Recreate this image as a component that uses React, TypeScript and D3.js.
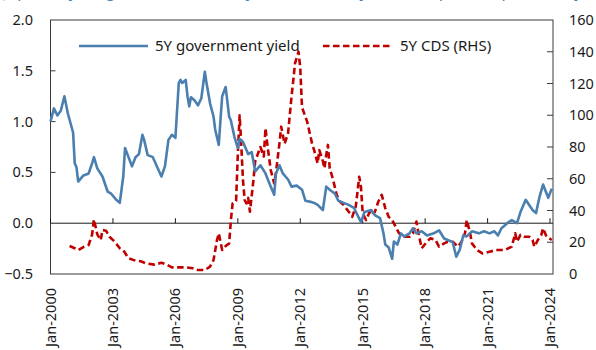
import React from "react";
import * as d3 from "d3";

// 5Y government bond yield (%), left axis
const yieldMonths = [
  "2000-01","2000-03","2000-05","2000-07","2000-09","2000-11","2001-02","2001-03","2001-04","2001-05",
  "2001-08","2001-11","2002-01","2002-02","2002-04","2002-07","2002-10","2002-12","2003-03","2003-05",
  "2003-07","2003-08","2003-10","2003-12","2004-02","2004-04","2004-06","2004-07","2004-09","2004-12",
  "2005-02","2005-05","2005-07","2005-09","2005-11","2006-01","2006-03","2006-04","2006-05","2006-07",
  "2006-08","2006-09","2006-10","2006-12","2007-02","2007-04","2007-06","2007-07","2007-09","2007-11",
  "2007-12","2008-02","2008-03","2008-04","2008-06","2008-08","2008-09","2008-11","2009-01","2009-02",
  "2009-04","2009-07","2009-09","2009-11","2010-02","2010-05","2010-08","2010-10","2010-11","2011-01",
  "2011-03","2011-06","2011-08","2011-11","2012-02","2012-04","2012-07","2012-09","2012-11","2013-02",
  "2013-04","2013-06","2013-09","2013-11","2014-02","2014-05","2014-08","2014-12","2015-02","2015-06",
  "2015-08","2015-11","2016-01","2016-02","2016-04","2016-06","2016-07","2016-09","2016-11","2017-01",
  "2017-04","2017-06","2017-08","2017-11","2018-02","2018-06","2018-09","2018-12","2019-04","2019-05",
  "2019-07","2019-09","2019-11","2020-01","2020-04","2020-08","2020-11","2021-02","2021-05","2021-07",
  "2021-09","2022-01","2022-03","2022-06","2022-08","2022-11","2023-01","2023-03","2023-05","2023-07",
  "2023-09","2023-12","2024-02"
];
const yieldValues = [
  1.00,1.13,1.06,1.11,1.25,1.08,0.89,0.59,0.55,0.41,
  0.47,0.49,0.59,0.65,0.54,0.46,0.31,0.29,0.23,0.20,
  0.46,0.74,0.65,0.56,0.65,0.68,0.87,0.82,0.67,0.65,
  0.57,0.46,0.56,0.82,0.87,0.84,1.38,1.41,1.38,1.41,
  1.25,1.15,1.24,1.21,1.16,1.23,1.49,1.38,1.18,1.05,
  0.92,0.77,1.01,1.25,1.34,1.05,1.01,0.85,0.74,0.83,
  0.80,0.68,0.70,0.51,0.57,0.49,0.36,0.28,0.49,0.57,
  0.49,0.43,0.36,0.37,0.33,0.22,0.21,0.20,0.18,0.13,
  0.36,0.33,0.29,0.22,0.20,0.18,0.15,0.01,0.11,0.13,
  0.08,0.05,-0.10,-0.21,-0.24,-0.35,-0.18,-0.21,-0.10,-0.13,
  -0.10,-0.05,-0.10,-0.08,-0.12,-0.10,-0.07,-0.15,-0.18,-0.19,
  -0.33,-0.26,-0.12,-0.13,-0.08,-0.10,-0.08,-0.10,-0.08,-0.12,
  -0.05,0.01,0.03,0.00,0.11,0.23,0.18,0.13,0.10,0.26,
  0.38,0.25,0.34
];

// 5Y CDS spread (bp), right axis
const cdsMonths = [
  "2000-12","2001-03","2001-05","2001-08","2001-11","2002-01","2002-02","2002-04","2002-06","2002-07",
  "2002-09","2002-11","2003-02","2003-05","2003-07","2003-10","2004-02","2004-05","2004-08","2005-01",
  "2005-05","2005-08","2005-11","2006-03","2006-07","2006-11","2007-02","2007-06","2007-09","2007-11",
  "2008-01","2008-02","2008-04","2008-06","2008-08","2008-09","2008-10","2008-12","2009-01","2009-02",
  "2009-03","2009-04","2009-05","2009-06","2009-07","2009-08","2009-10","2009-11","2010-01","2010-02",
  "2010-04","2010-05","2010-06","2010-08","2010-10","2010-11","2011-01","2011-02","2011-04","2011-06",
  "2011-08","2011-09","2011-10","2011-12","2012-01","2012-02","2012-04","2012-05","2012-08","2012-09",
  "2012-11","2012-12","2013-02","2013-03","2013-04","2013-05","2013-06","2013-08","2013-10","2013-12",
  "2014-02","2014-05","2014-07","2014-09","2014-11","2014-12","2015-01","2015-03","2015-05","2015-06",
  "2015-08","2015-10","2015-12","2016-02","2016-04","2016-06","2016-08","2016-10","2017-01","2017-04",
  "2017-06","2017-08","2017-09","2017-11","2018-02","2018-04","2018-07","2018-09","2018-12","2019-02",
  "2019-05","2019-08","2019-10","2019-12","2020-01","2020-03","2020-04","2020-07","2020-10","2021-02",
  "2021-06","2021-11","2022-03","2022-05","2022-06","2022-08","2022-10","2023-01","2023-03","2023-04",
  "2023-06","2023-08","2023-09","2023-11","2024-02"
];
const cdsValues = [
  17.6,16.2,15.1,17.0,18.3,25.0,34.4,25.0,21.4,27.7,
  27.3,23.5,20.3,16.2,15.0,9.9,8.4,8.0,6.7,5.9,
  7.1,5.9,4.2,4.2,4.2,3.6,2.5,2.5,4.6,8.8,
  21.4,25.6,15.1,17.6,19.3,34.0,44.5,46.0,76.0,100.0,
  82.0,59.0,46.6,44.5,48.0,39.2,59.0,71.0,77.0,80.0,
  74.0,91.8,82.0,65.5,57.0,64.0,82.3,92.8,82.0,88.6,
  111.7,122.0,132.7,140.0,130.0,105.0,99.0,96.0,81.3,78.0,
  69.7,78.0,71.0,66.6,75.0,81.3,66.6,59.2,49.8,45.5,
  43.4,39.2,36.0,42.4,61.3,55.0,38.2,34.0,39.0,37.0,
  39.0,45.5,49.8,41.5,36.0,34.0,29.8,25.6,23.5,23.5,
  25.6,33.0,26.6,16.2,20.3,22.5,21.4,17.2,19.3,20.3,
  20.3,17.2,20.3,25.6,34.0,25.6,19.3,15.1,13.0,14.0,
  15.1,15.1,17.2,25.6,20.3,24.6,23.5,23.5,21.4,17.2,
  21.4,24.6,28.8,23.5,21.4
];

const leftTicks = [-0.5, 0.0, 0.5, 1.0, 1.5, 2.0];
const rightTicks = [0, 20, 40, 60, 80, 100, 120, 140, 160];
const xTickYears = [2000, 2003, 2006, 2009, 2012, 2015, 2018, 2021, 2024];

const seriesNames = ["5Y government yield", "5Y CDS (RHS)"];
const titleText =
  "Japan: 5-year government bond yield (%) and 5-year CDS spread (bp, monthly averages of daily data)";

const W = 596;
const H = 350;
const FONT = "'Noto Sans', 'Open Sans', sans-serif";
const BLUE = "#4a7fb0";
const RED = "#c00000";
const INK = "#1a1a1a";

const parseMonth = d3.timeParse("%Y-%m");

export default function App() {
  const box = { left: 50.5, right: 553, top: 20, bottom: 274 };

  const x = d3
    .scaleTime()
    .domain([new Date(2000, 0, 1), new Date(2024, 0, 1)])
    .range([box.left, 550]);
  const yL = d3.scaleLinear().domain([-0.5, 2.0]).range([box.bottom, box.top]);
  const yR = d3.scaleLinear().domain([0, 160]).range([box.bottom, box.top]);

  const yieldData = yieldMonths.map((m, i) => ({ d: parseMonth(m) as Date, v: yieldValues[i] }));
  const cdsData = cdsMonths.map((m, i) => ({ d: parseMonth(m) as Date, v: cdsValues[i] }));

  const yieldLine = d3
    .line<{ d: Date; v: number }>()
    .x((p) => x(p.d))
    .y((p) => yL(p.v));
  const cdsLine = d3
    .line<{ d: Date; v: number }>()
    .x((p) => x(p.d))
    .y((p) => yR(p.v));

  const zeroY = yL(0);
  const fmtLeft = d3.format(".1f");

  return (
    <svg
      width={W}
      height={H}
      style={{ position: "absolute", left: 0, top: 0, background: "#fff" }}
      fontFamily={FONT}
    >
      <rect x={0} y={0} width={W} height={H} fill="#fff" />

      {/* title, sitting above the top edge so only its descenders show */}
      <text x={4} y={-3} fontSize={16} fill={BLUE}>
        {titleText}
      </text>

      {/* plot frame */}
      <rect
        x={box.left}
        y={box.top}
        width={box.right - box.left}
        height={box.bottom - box.top}
        fill="none"
        stroke="#3a3a3a"
        strokeWidth={1}
      />

      {/* left axis ticks and labels */}
      {leftTicks.map((t) => (
        <g key={"l" + t}>
          {t > -0.5 && t < 2.0 && t !== 0 && (
            <line x1={box.left} x2={box.left + 5} y1={yL(t)} y2={yL(t)} stroke="#3a3a3a" />
          )}
          <text x={33} y={yL(t)} dy="0.35em" textAnchor="end" fontSize={14.5} fill={INK}>
            {fmtLeft(t)}
          </text>
        </g>
      ))}

      {/* right axis ticks and labels */}
      {rightTicks.map((t) => (
        <g key={"r" + t}>
          {t > 0 && t < 160 && (
            <line x1={box.right - 6} x2={box.right} y1={yR(t)} y2={yR(t)} stroke="#3a3a3a" />
          )}
          <text x={569} y={yR(t)} dy="0.35em" textAnchor="start" fontSize={14.5} fill={INK}>
            {t}
          </text>
        </g>
      ))}

      {/* horizontal axis at zero */}
      <line x1={box.left} x2={box.right} y1={zeroY} y2={zeroY} stroke="#1a1a1a" strokeWidth={1} />
      {xTickYears.map((yr) => {
        const xx = x(new Date(yr, 0, 1));
        return (
          <g key={"x" + yr}>
            <line x1={xx} x2={xx} y1={zeroY} y2={zeroY - 5} stroke="#1a1a1a" />
            <text
              transform={`translate(${xx},288) rotate(-90)`}
              dy="0.35em"
              textAnchor="end"
              fontSize={14.5}
              fill={INK}
            >
              {"Jan-" + yr}
            </text>
          </g>
        );
      })}

      {/* series */}
      <path
        d={cdsLine(cdsData) || ""}
        fill="none"
        stroke={RED}
        strokeWidth={2.6}
        strokeDasharray="6.5,3.5"
        strokeLinejoin="round"
      />
      <path
        d={yieldLine(yieldData) || ""}
        fill="none"
        stroke={BLUE}
        strokeWidth={2.6}
        strokeLinejoin="round"
      />

      {/* legend */}
      <line x1={79} x2={148} y1={46} y2={46} stroke={BLUE} strokeWidth={2.6} />
      <text x={155} y={46} dy="0.35em" fontSize={15} fill={INK}>
        {seriesNames[0]}
      </text>
      <line
        x1={323}
        x2={393}
        y1={46}
        y2={46}
        stroke={RED}
        strokeWidth={2.6}
        strokeDasharray="6.5,3.5"
      />
      <text x={400} y={46} dy="0.35em" fontSize={15} fill={INK}>
        {seriesNames[1]}
      </text>
    </svg>
  );
}
